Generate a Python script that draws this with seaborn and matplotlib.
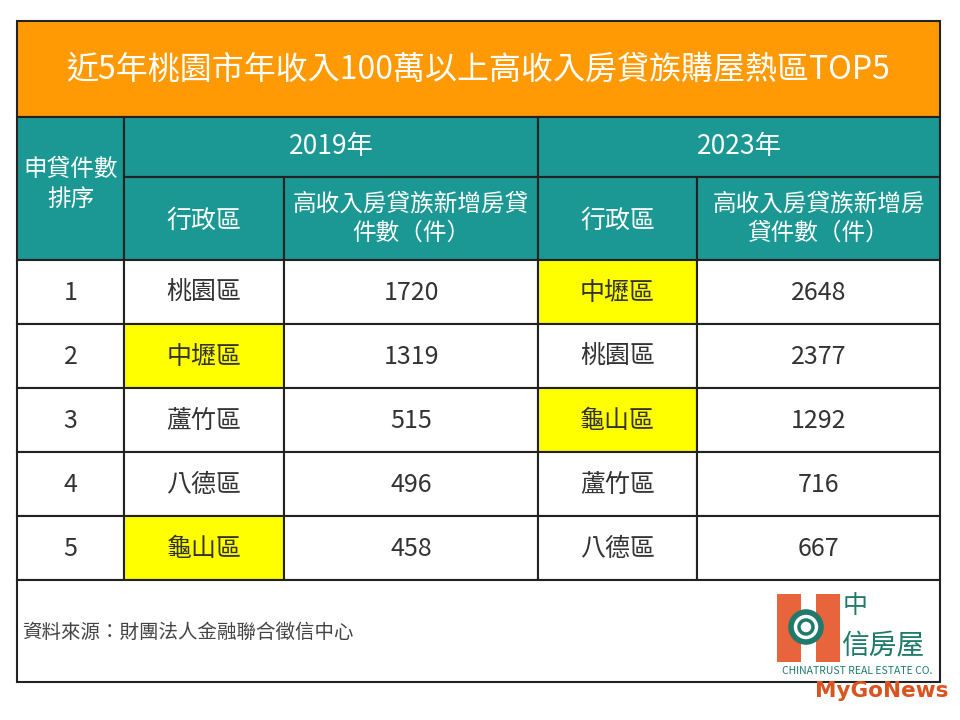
import matplotlib
matplotlib.use("Agg")
import matplotlib.pyplot as plt
import seaborn as sns
from matplotlib.patches import Rectangle

sns.set_theme(style="white")
plt.rcParams['font.family'] = ['Noto Sans CJK TC', 'DejaVu Sans']

title = "近5年桃園市年收入100萬以上高收入房貸族購屋熱區TOP5"
rank_header = "申貸件數\n排序"
years = ["2019年", "2023年"]
district_header = "行政區"
count_headers = ["高收入房貸族新增房貸\n件數（件）", "高收入房貸族新增房\n貸件數（件）"]
ranks = [1, 2, 3, 4, 5]
districts_2019 = ["桃園區", "中壢區", "蘆竹區", "八德區", "龜山區"]
counts_2019 = [1720, 1319, 515, 496, 458]
districts_2023 = ["中壢區", "桃園區", "龜山區", "蘆竹區", "八德區"]
counts_2023 = [2648, 2377, 1292, 716, 667]
highlight = ["中壢區", "龜山區"]
source = "資料來源：財團法人金融聯合徵信中心"

ORANGE = "#FF9A05"
TEAL = "#1B9893"
YELLOW = "#FFFF00"
LINE = "#222222"
TXT = "#333333"

fig = plt.figure(figsize=(9.6, 7.2), dpi=100)
ax = fig.add_axes([0, 0, 1, 1])
ax.set_xlim(0, 960)
ax.set_ylim(720, 0)
ax.axis("off")

cols = [17, 124, 284, 538, 697, 940]
y_top, y_title, y_h1, y_h2 = 21, 117, 177, 260
row_h = 64
n = len(ranks)
y_end = y_h2 + n * row_h
y_foot = 682

def rect(x0, y0, x1, y1, fc):
    ax.add_patch(Rectangle((x0, y0), x1 - x0, y1 - y0, facecolor=fc,
                           edgecolor=LINE, linewidth=1.5))

def txt(x, y, s, size, color, **kw):
    ax.text(x, y, s, ha="center", va="center", fontsize=size, color=color,
            linespacing=1.35, **kw)

# title band
rect(cols[0], y_top, cols[-1], y_title, ORANGE)
txt((cols[0] + cols[-1]) / 2, (y_top + y_title) / 2 + 1, title, 23, "white")

# header
rect(cols[0], y_title, cols[1], y_h2, TEAL)
txt((cols[0] + cols[1]) / 2, (y_title + y_h2) / 2 - 4, rank_header, 17, "white")
for i, yr in enumerate(years):
    c0, c1, c2 = cols[1 + 2 * i], cols[2 + 2 * i], cols[3 + 2 * i]
    rect(c0, y_title, c2, y_h1, TEAL)
    txt((c0 + c2) / 2, (y_title + y_h1) / 2, yr, 19, "white")
    rect(c0, y_h1, c1, y_h2, TEAL)
    txt((c0 + c1) / 2, (y_h1 + y_h2) / 2 + 2, district_header, 18, "white")
    rect(c1, y_h1, c2, y_h2, TEAL)
    txt((c1 + c2) / 2, (y_h1 + y_h2) / 2, count_headers[i], 17, "white")

# data rows
for r in range(n):
    y0 = y_h2 + r * row_h
    y1 = y0 + row_h
    yc = (y0 + y1) / 2 + 1
    rect(cols[0], y0, cols[1], y1, "white")
    txt((cols[0] + cols[1]) / 2, yc, str(ranks[r]), 18, TXT)
    for i, (ds, cs) in enumerate([(districts_2019, counts_2019),
                                  (districts_2023, counts_2023)]):
        c0, c1, c2 = cols[1 + 2 * i], cols[2 + 2 * i], cols[3 + 2 * i]
        fc = YELLOW if ds[r] in highlight else "white"
        rect(c0, y0, c1, y1, fc)
        txt((c0 + c1) / 2, yc, ds[r], 18, TXT)
        rect(c1, y0, c2, y1, "white")
        txt((c1 + c2) / 2, yc, str(cs[r]), 18, TXT)

# footer
rect(cols[0], y_end, cols[-1], y_foot, "white")
ax.text(22, 632, source, ha="left", va="center", fontsize=14, color="#444444")

# logo
LOGO_O = "#E8643C"
LOGO_T = "#1F7A6B"
ax.add_patch(Rectangle((777, 594), 24, 68, facecolor=LOGO_O, edgecolor="none"))
ax.add_patch(Rectangle((816, 594), 24, 68, facecolor=LOGO_O, edgecolor="none"))
ax.add_patch(Rectangle((800, 618), 17, 20, facecolor=LOGO_O, edgecolor="none"))
ax.add_patch(plt.Circle((806, 627), 15, facecolor="white", edgecolor=LOGO_T, linewidth=4))
ax.add_patch(plt.Circle((806, 627), 7, facecolor="none", edgecolor=LOGO_T, linewidth=2.5))
ax.text(843, 606, "中", fontsize=18, color=LOGO_T, ha="left", va="center")
ax.text(841, 646, "信房屋", fontsize=20, color=LOGO_T, ha="left", va="center")
ax.text(857, 671, "CHINATRUST REAL ESTATE CO.", fontsize=7.5, color=LOGO_T,
        ha="center", va="center")
ax.text(882, 691, "MyGoNews", fontsize=15.5, color="#D9541E", ha="center",
        va="center", fontweight="bold", family=["DejaVu Sans"])

fig.savefig("out.png", dpi=100, facecolor="white")
